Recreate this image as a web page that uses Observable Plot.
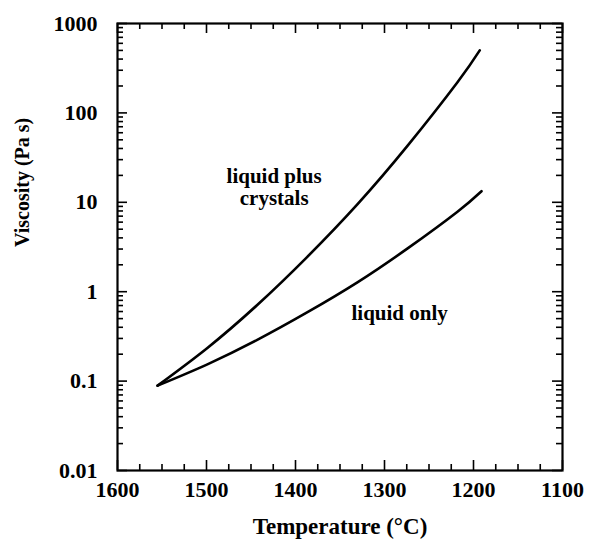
<!DOCTYPE html>
<html>
<head>
<meta charset="utf-8">
<script src="https://cdn.jsdelivr.net/npm/d3@7"></script>
<script src="https://cdn.jsdelivr.net/npm/@observablehq/plot@0.6"></script>
<style>
  html, body { margin: 0; padding: 0; background: #fff; }
  #chart { width: 602px; height: 550px; }
</style>
</head>
<body>
<div id="chart"></div>
<script>
// Data
const tempCrystals = [1555, 1499, 1443, 1387, 1330, 1274, 1218, 1193];
const viscCrystals = [0.089, 0.235, 0.71, 2.44, 9.6, 43, 220, 500];
const tempLiquid = [1555, 1499, 1443, 1387, 1330, 1274, 1218, 1191];
const viscLiquid = [0.089, 0.154, 0.289, 0.586, 1.28, 3.05, 7.85, 13.3];

const xTickLabels = [1600, 1500, 1400, 1300, 1200, 1100];
const yTickLabels = [0.01, 0.1, 1, 10, 100, 1000];
const xTitle = "Temperature (°C)";
const yTitle = "Viscosity (Pa s)";
const labelCrystals = "liquid plus\ncrystals";
const labelLiquid = "liquid only";

const crystals = tempCrystals.map((t, i) => ({t, v: viscCrystals[i]}));
const liquid = tempLiquid.map((t, i) => ({t, v: viscLiquid[i]}));

const W = 602, H = 550;
const mL = 117, mR = 40, mT = 23, mB = 80;
const pw = W - mL - mR, ph = H - mT - mB;

const xMinor = d3.range(1600, 1099, -25).filter(d => !xTickLabels.includes(d));
const yMinor = d3.scaleLog().domain([0.01, 1000]).ticks().filter(d => !yTickLabels.includes(d));

const font = "'Liberation Serif', 'DejaVu Serif', serif";
const majorLen = 10, minorLen = 6;

const chart = Plot.plot({
  width: W, height: H,
  marginLeft: mL, marginRight: mR, marginTop: mT, marginBottom: mB,
  style: {fontFamily: font, background: "white", color: "black"},
  x: {type: "linear", domain: [1600, 1100]},
  y: {type: "log", domain: [0.01, 1000]},
  marks: [
    // ticks: left/right (inward)
    Plot.tickY(yTickLabels, {y: d => d, insetRight: pw - majorLen, stroke: "black", strokeWidth: 1.6}),
    Plot.tickY(yMinor, {y: d => d, insetRight: pw - minorLen, stroke: "black", strokeWidth: 1.6}),
    Plot.tickY(yTickLabels, {y: d => d, insetLeft: pw - majorLen, stroke: "black", strokeWidth: 1.6}),
    Plot.tickY(yMinor, {y: d => d, insetLeft: pw - minorLen, stroke: "black", strokeWidth: 1.6}),
    // ticks: bottom/top (inward)
    Plot.tickX(xTickLabels, {x: d => d, insetTop: ph - majorLen, stroke: "black", strokeWidth: 1.6}),
    Plot.tickX(xMinor, {x: d => d, insetTop: ph - minorLen, stroke: "black", strokeWidth: 1.6}),
    Plot.tickX(xTickLabels, {x: d => d, insetBottom: ph - majorLen, stroke: "black", strokeWidth: 1.6}),
    Plot.tickX(xMinor, {x: d => d, insetBottom: ph - minorLen, stroke: "black", strokeWidth: 1.6}),
    Plot.frame({stroke: "black", strokeWidth: 2.2}),
    Plot.axisX({ticks: xTickLabels, tickSize: 0, tickPadding: 11, tickFormat: d => String(d),
      label: null, fontSize: 22, fontWeight: "bold", fontFamily: font}),
    Plot.axisY({ticks: yTickLabels, tickSize: 0, tickPadding: 20, tickFormat: d => String(d),
      label: null, fontSize: 22, fontWeight: "bold", fontFamily: font}),
    Plot.text([xTitle], {text: d => d, frameAnchor: "bottom", dy: 63, fontSize: 23, fontWeight: "bold", fontFamily: font}),
    Plot.text([yTitle], {text: d => d, frameAnchor: "left", dx: -95, rotate: -90, fontSize: 20, fontWeight: "bold", fontFamily: font}),
    Plot.line(crystals, {x: "t", y: "v", curve: "natural", stroke: "black", strokeWidth: 2.6}),
    Plot.line(liquid, {x: "t", y: "v", curve: "natural", stroke: "black", strokeWidth: 2.6}),
    Plot.text([labelCrystals], {text: d => d, x: 1424, y: 15, fontSize: 21, lineHeight: 1.05, fontWeight: "bold", fontFamily: font}),
    Plot.text([labelLiquid], {text: d => d, x: 1283, y: 0.57, fontSize: 21, fontWeight: "bold", fontFamily: font})
  ]
});
document.getElementById("chart").appendChild(chart);
</script>
</body>
</html>
